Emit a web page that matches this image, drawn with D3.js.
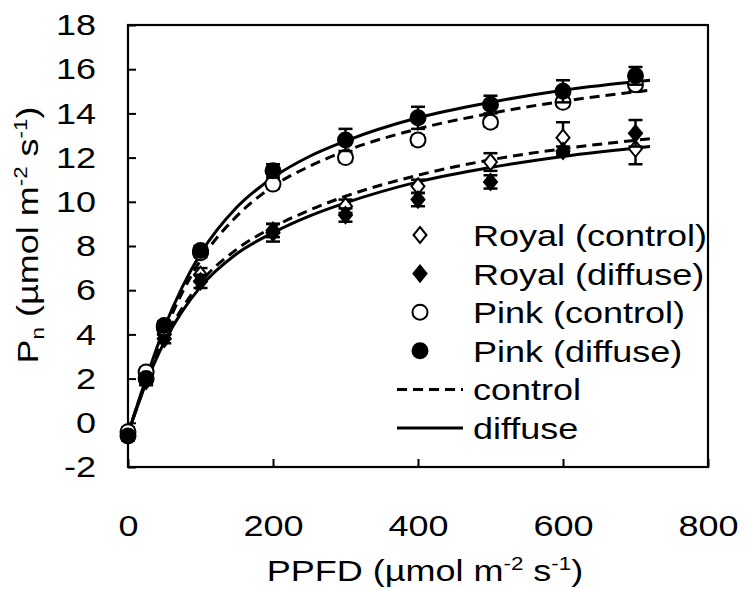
<!DOCTYPE html>
<html>
<head>
<meta charset="utf-8">
<script src="https://cdn.jsdelivr.net/npm/d3@7"></script>
<style>
  html, body { margin: 0; padding: 0; background: #fff; }
  svg { display: block; font-family: "Liberation Sans", Arial, sans-serif; }
</style>
</head>
<body>
<svg id="chart" width="747" height="589"></svg>
<script>
// ---- data ----
const ppfd = [0, 25, 50, 100, 200, 300, 400, 500, 600, 700];

const royalControl    = [-0.4, 2.1, 4.0, 6.7, 8.7, 9.8, 10.7, 11.8, 12.9, 12.4];
const royalControlSE  = [0.2, 0.2, 0.2, 0.3, 0.3, 0.3, 0.3, 0.4, 0.7, 0.7];
const royalDiffuse    = [-0.5, 1.9, 3.8, 6.4, 8.6, 9.4, 10.1, 10.9, 12.3, 13.1];
const royalDiffuseSE  = [0.2, 0.2, 0.2, 0.3, 0.4, 0.3, 0.3, 0.3, 0.2, 0.6];
const pinkControl     = [-0.4, 2.3, 4.3, 7.7, 10.8, 12.0, 12.8, 13.6, 14.5, 15.3];
const pinkControlSE   = [0.2, 0.2, 0.2, 0.2, 0.2, 0.2, 0.2, 0.2, 0.2, 0.3];
const pinkDiffuse     = [-0.6, 2.0, 4.4, 7.8, 11.4, 12.8, 13.8, 14.4, 15.0, 15.7];
const pinkDiffuseSE   = [0.2, 0.2, 0.2, 0.2, 0.3, 0.5, 0.5, 0.4, 0.5, 0.4];

// fitted curves
const curvePPFD         = [0, 25, 50, 75, 100, 150, 200, 250, 300, 400, 500, 600, 720];
const curvePinkDiffuse  = [-0.5, 2.0, 4.3, 6.15, 7.65, 9.75, 11.1, 12.05, 12.75, 13.8, 14.5, 15.05, 15.5];
const curvePinkControl  = [-0.5, 1.9, 4.1, 5.9, 7.35, 9.35, 10.7, 11.6, 12.3, 13.3, 14.0, 14.55, 15.05];
const curveRoyalControl = [-0.5, 1.9, 3.8, 5.2, 6.35, 7.85, 8.85, 9.62, 10.25, 11.2, 11.9, 12.4, 12.85];
const curveRoyalDiffuse = [-0.5, 1.8, 3.65, 5.05, 6.15, 7.65, 8.6, 9.35, 9.95, 10.9, 11.55, 12.05, 12.5];

const xTicks = [0, 200, 400, 600, 800];
const yTicks = [-2, 0, 2, 4, 6, 8, 10, 12, 14, 16, 18];

const legendPoints = ["Royal (control)", "Royal (diffuse)", "Pink (control)", "Pink (diffuse)"];
const legendLines = ["control", "diffuse"];

// ---- chart ----
const svg = d3.select("#chart");
const x = d3.scaleLinear().domain([0, 800]).range([128, 708]);
const y = d3.scaleLinear().domain([-2, 18]).range([467, 25]);
const FS = 30;
const SX = 1.2; // horizontal widening of the reference lettering
const fmt = d => String(d);

// axes
const gy = svg.append("g").attr("transform", `translate(${x(0)},0)`)
  .call(d3.axisLeft(y).tickValues(yTicks).tickFormat(fmt).tickSize(-8).tickPadding(32).tickSizeOuter(0));
const gx = svg.append("g").attr("transform", `translate(0,${y(-2)})`)
  .call(d3.axisBottom(x).tickValues(xTicks).tickFormat(fmt).tickSize(-8).tickPadding(48).tickSizeOuter(0));
[gx, gy].forEach(g => {
  g.select(".domain").remove();
  g.selectAll(".tick line").attr("stroke", "#000").attr("stroke-width", 2);
  g.selectAll(".tick text").attr("font-size", FS).attr("fill", "#000")
    .attr("font-family", "'Liberation Sans', Arial, sans-serif");
});
gy.selectAll(".tick text").attr("x", -32 / SX).attr("transform", `scale(${SX},1)`);
gx.selectAll(".tick text").attr("transform", `scale(${SX},1)`);

// frame
svg.append("rect")
  .attr("x", x(0)).attr("y", y(18))
  .attr("width", x(800) - x(0)).attr("height", y(-2) - y(18))
  .attr("fill", "none").attr("stroke", "#000").attr("stroke-width", 2.2);

// curves
const line = d3.line().x(d => x(d[0])).y(d => y(d[1])).curve(d3.curveMonotoneX);
const curves = [
  { v: curveRoyalControl, dash: "10,6" },
  { v: curveRoyalDiffuse, dash: null },
  { v: curvePinkControl, dash: "10,6" },
  { v: curvePinkDiffuse, dash: null }
];
curves.forEach(c => {
  svg.append("path")
    .attr("d", line(curvePPFD.map((p, i) => [p, c.v[i]])))
    .attr("fill", "none").attr("stroke", "#000").attr("stroke-width", 3)
    .attr("stroke-dasharray", c.dash);
});

// markers
const diamond = "M0,-8L6.5,0L0,8L-6.5,0Z";
const series = [
  { v: royalControl, se: royalControlSE, shape: "diamond", fill: "#fff" },
  { v: royalDiffuse, se: royalDiffuseSE, shape: "diamond", fill: "#000" },
  { v: pinkControl, se: pinkControlSE, shape: "circle", fill: "#fff" },
  { v: pinkDiffuse, se: pinkDiffuseSE, shape: "circle", fill: "#000" }
];
function drawMarker(g, shape, fill, cx, cy) {
  if (shape === "circle") {
    g.append("circle").attr("cx", cx).attr("cy", cy).attr("r", 7.5)
      .attr("fill", fill).attr("stroke", "#000").attr("stroke-width", 2);
  } else {
    g.append("path").attr("d", diamond).attr("transform", `translate(${cx},${cy})`)
      .attr("fill", fill).attr("stroke", "#000").attr("stroke-width", 2);
  }
}
series.forEach(s => {
  const g = svg.append("g");
  ppfd.forEach((p, i) => {
    const cx = x(p), top = y(s.v[i] + s.se[i]), bot = y(s.v[i] - s.se[i]);
    g.append("line").attr("x1", cx).attr("x2", cx).attr("y1", top).attr("y2", bot)
      .attr("stroke", "#000").attr("stroke-width", 2.5);
    [top, bot].forEach(yy => g.append("line").attr("x1", cx - 7).attr("x2", cx + 7)
      .attr("y1", yy).attr("y2", yy).attr("stroke", "#000").attr("stroke-width", 2.5));
  });
  ppfd.forEach((p, i) => drawMarker(g, s.shape, s.fill, x(p), y(s.v[i])));
});

// legend
const lg = svg.append("g");
const rowY = i => 235 + i * 38.6;
function legendText(t, i) {
  lg.append("text").attr("transform", `translate(473,${rowY(i) + 11}) scale(${SX},1)`)
    .attr("font-size", FS).attr("fill", "#000").text(t);
}
legendPoints.forEach((t, i) => {
  drawMarker(lg, series[i].shape, series[i].fill, 420, rowY(i));
  legendText(t, i);
});
legendLines.forEach((t, j) => {
  const i = j + 4;
  lg.append("line").attr("x1", 397).attr("x2", 463).attr("y1", rowY(i)).attr("y2", rowY(i))
    .attr("stroke", "#000").attr("stroke-width", 3)
    .attr("stroke-dasharray", j === 0 ? "10,6" : null);
  legendText(t, i);
});

// axis titles
const xt = svg.append("text").attr("transform", `translate(425,581) scale(${SX},1)`)
  .attr("text-anchor", "middle").attr("font-size", FS).attr("fill", "#000");
xt.append("tspan").text("PPFD (µmol m");
xt.append("tspan").attr("font-size", FS * 0.62).attr("dy", -11).text("-2");
xt.append("tspan").attr("dy", 11).text(" s");
xt.append("tspan").attr("font-size", FS * 0.62).attr("dy", -11).text("-1");
xt.append("tspan").attr("dy", 11).text(")");

const yt = svg.append("text").attr("transform", `translate(38,235) rotate(-90) scale(${SX},1)`)
  .attr("text-anchor", "middle").attr("font-size", FS).attr("fill", "#000");
yt.append("tspan").text("P");
yt.append("tspan").attr("font-size", FS * 0.62).attr("dy", 6).text("n");
yt.append("tspan").attr("dy", -6).text(" (µmol m");
yt.append("tspan").attr("font-size", FS * 0.62).attr("dy", -11).text("-2");
yt.append("tspan").attr("dy", 11).text(" s");
yt.append("tspan").attr("font-size", FS * 0.62).attr("dy", -11).text("-1");
yt.append("tspan").attr("dy", 11).text(")");
</script>
</body>
</html>
